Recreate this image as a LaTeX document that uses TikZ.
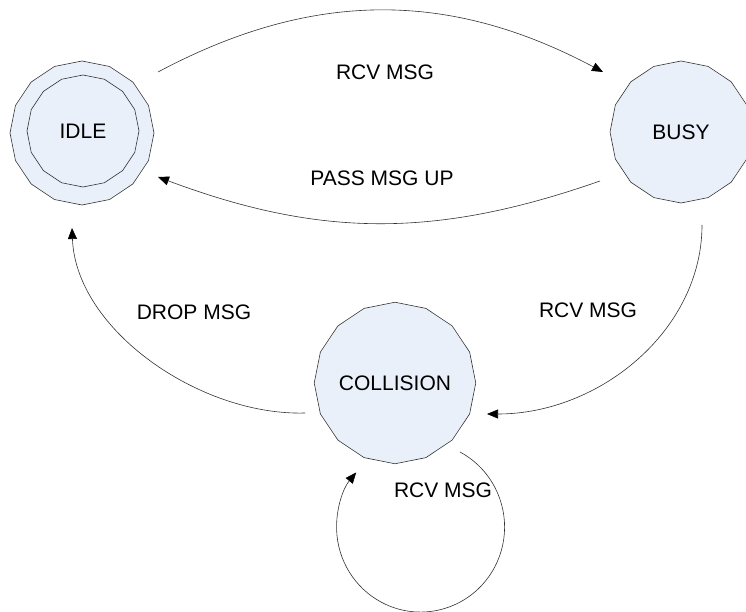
\documentclass[tikz,border=0pt]{standalone}
\usepackage{fontspec}
\setmainfont{Liberation Sans}
\usetikzlibrary{shapes.geometric,arrows.meta,calc}
\definecolor{statefill}{HTML}{EAF0F9}
\definecolor{lineclr}{HTML}{333333}
\tikzset{
  state/.style={regular polygon, regular polygon sides=16, shape border rotate=11.25,
    draw=lineclr, line width=0.6pt, fill=statefill, inner sep=0pt, font=\fontsize{21}{25}\selectfont},
  edge/.style={draw=lineclr, line width=0.6pt, -{Triangle[length=11pt,width=9pt,color=black]}},
  lbl/.style={inner sep=0pt, font=\fontsize{21}{25}\selectfont}
}
\begin{document}
\begin{tikzpicture}[x=1pt,y=-1pt]
\useasboundingbox (0,0) rectangle (746,612);
% states
\node[state, minimum size=144pt] (IDLE) at (82,133) {};
\node[state, minimum size=112pt] (IDLEin) at (83,131) {IDLE};
\node[state, minimum size=142pt] (BUSY) at (681,132) {BUSY};
\node[state, minimum size=144pt] (COLL) at (395,383) {COLLISION};
% labels
\node[lbl] (l1) at (385,72) {RCV MSG};
\node[lbl] (l2) at (382,178) {PASS MSG UP};
\node[lbl] (l3) at (588,310) {RCV MSG};
\node[lbl] (l4) at (194,312) {DROP MSG};
\node[lbl] (l5) at (443,490) {RCV MSG};
% connectors
\draw[edge] ($(IDLE)+(76,-61)$) .. controls +(154,-82) and +(-154,-82) .. ($(BUSY)+(-78,-60)$);
\draw[edge] ($(BUSY)+(-81,49)$) .. controls +(-163,57) and +(163,61) .. ($(IDLE)+(76,44)$);
\draw[edge] ($(BUSY)+(21,93)$) .. controls +(0,105) and +(113,0) .. ($(COLL)+(92,31)$);
\draw[edge] ($(COLL)+(-90,30)$) .. controls +(-105,3) and +(4,102) .. ($(IDLE)+(-10,95)$);
\draw[edge] ($(COLL)+(65,69)$) arc[start angle=-62, end angle=220, x radius=84, y radius=85];
\end{tikzpicture}
\end{document}
